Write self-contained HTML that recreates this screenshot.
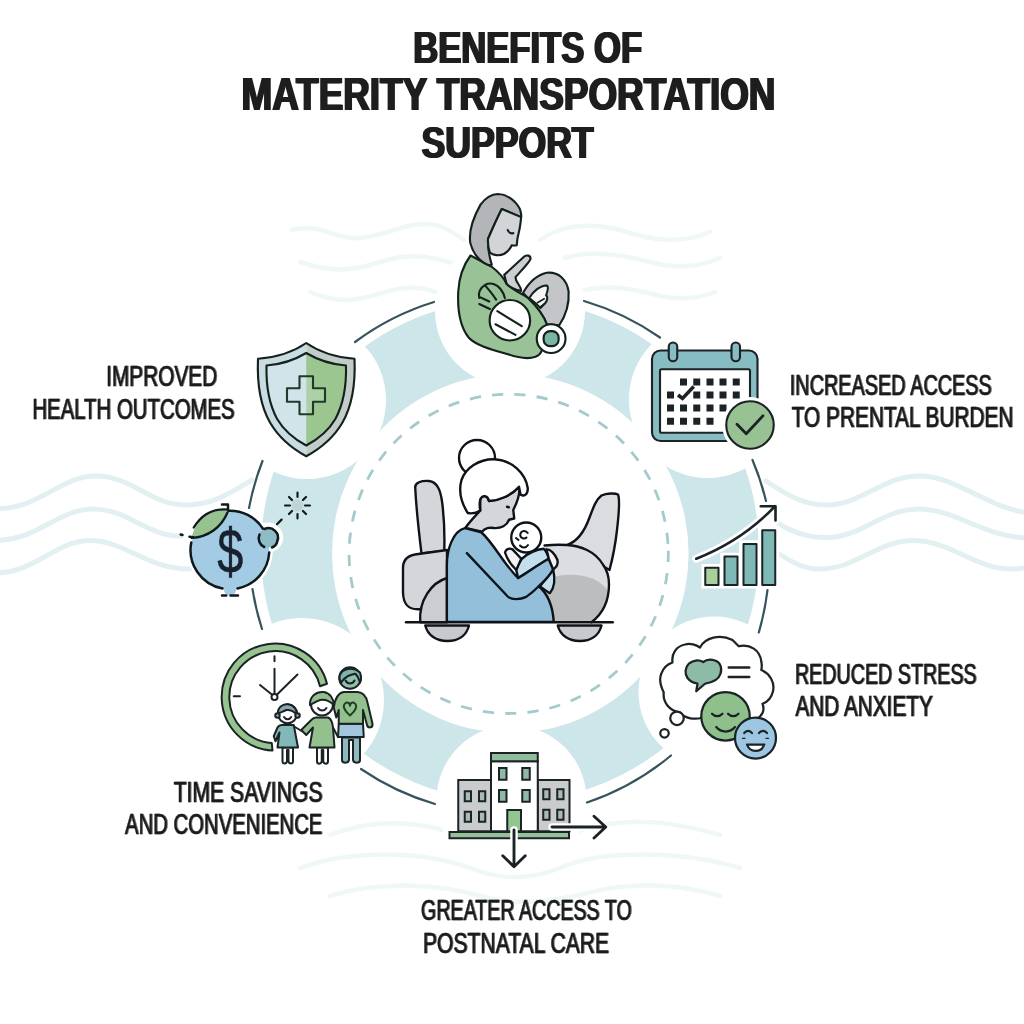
<!DOCTYPE html>
<html lang="en"><head><meta charset="utf-8"><title>Benefits of Materity Transportation Support</title>
<style>
html,body{margin:0;padding:0;background:#fff;}
body{width:1024px;height:1024px;overflow:hidden;font-family:"Liberation Sans",sans-serif;}
svg{display:block;}
text{font-family:"Liberation Sans",sans-serif;fill:#1b1b1b;}
.t{font-weight:bold;fill:#1e1e1e;}
.l{stroke:#1b1b1b;stroke-width:0.5px;stroke-linejoin:round;}
.k{stroke:#1c2326;stroke-width:1.4;stroke-linejoin:round;stroke-linecap:round;}
.n{fill:none;}
</style></head><body>
<svg width="1024" height="1024" viewBox="0 0 1024 1024">
<rect width="1024" height="1024" fill="#ffffff"/>
<defs>
<filter id="bold" x="-5%" y="-10%" width="110%" height="120%" color-interpolation-filters="sRGB">
<feOffset in="SourceGraphic" dx="1" dy="0" result="a"/>
<feOffset in="SourceGraphic" dx="-1" dy="0" result="b"/>
<feMerge><feMergeNode in="a"/><feMergeNode in="b"/><feMergeNode in="SourceGraphic"/></feMerge>
</filter>
<filter id="semi" x="-2%" y="-2%" width="104%" height="104%" color-interpolation-filters="sRGB">
<feOffset in="SourceGraphic" dx="1" dy="0" result="a"/>
<feComponentTransfer in="a" result="b"><feFuncA type="linear" slope="0.65"/></feComponentTransfer>
<feMerge><feMergeNode in="b"/><feMergeNode in="SourceGraphic"/></feMerge>
</filter>
<filter id="gray" x="-2%" y="-2%" width="104%" height="104%" color-interpolation-filters="sRGB"><feMerge><feMergeNode in="SourceGraphic"/></feMerge></filter>
</defs>
<g id="waves" fill="none" stroke-linecap="round">
<g stroke="#e2f0f1" stroke-width="5">
<path d="M-5,509 C40,509 60,476 96,476 C132,476 150,505 186,505 C215,505 235,490 252,480"/>
<path d="M-5,540.5 C38,540.5 58,509 93,509 C128,509 146,536 181,536"/>
<path d="M-5,573 C36,573 55,540.5 90,540.5 C125,540.5 146,569 190,569"/>
<path d="M766,481 C790,497 805,505 826,505 C862,505 882,476 919,476 C958,476 985,508 1030,513"/>
<path d="M779,524 C795,533 808,537.5 826,537.5 C862,537.5 882,509 919,509 C956,509 985,538 1030,538"/>
<path d="M779,554 C795,564 805,569 820,569 C856,569 878,540.5 913,540.5 C950,540.5 975,569 1012,569 C1018,569 1024,568 1030,567"/>
</g>
<g stroke="#f0f7f7" stroke-width="4.5">
<path d="M292,230 C320,222 335,240 360,238 C390,236 410,218 440,226 C450,230 458,236 464,240"/>
<path d="M300,262 C330,272 350,272 380,262 C405,254 425,254 455,264"/>
<path d="M310,292 C340,305 360,300 385,292 C405,286 420,286 435,292"/>
<path d="M540,240 C560,225 590,222 620,230 C650,240 680,245 710,232"/>
<path d="M565,258 C590,250 620,254 650,262 C680,270 700,266 720,258"/>
<path d="M585,290 C610,284 640,290 660,296 C680,300 700,298 715,292"/>
<path d="M330,835 C370,820 410,820 450,832"/>
<path d="M575,832 C620,818 660,818 720,835"/>
<path d="M300,868 C350,850 420,850 470,868 C500,880 530,880 560,868 C600,850 680,850 740,868"/>
<path d="M330,896 C380,880 440,884 480,896 C520,908 560,900 600,890 C640,882 680,884 720,896"/>
</g>
</g>
<g id="ring">
<path fill="#cde6e9" fill-rule="evenodd" d="M261,550.5 a249,251 0 1,0 498,0 a249,251 0 1,0 -498,0 Z M332.0,553.5 a178.3,179.5 0 1,0 356.6,0 a178.3,179.5 0 1,0 -356.6,0 Z"/>
<circle cx="510" cy="311" r="75" fill="#ffffff"/>
<circle cx="707.5" cy="399.3" r="78.6" fill="#ffffff"/>
<circle cx="714" cy="692" r="75.5" fill="#ffffff"/>
<circle cx="511.5" cy="800" r="75" fill="#ffffff"/>
<circle cx="302" cy="700" r="82" fill="#ffffff"/>
<circle cx="307" cy="400" r="79" fill="#ffffff"/>
<circle cx="508.7" cy="553.9" r="159.6" fill="none" stroke="#a5cacd" stroke-width="2.8" stroke-dasharray="11.2 11.168" transform="rotate(-1.1 508.7 553.9)"/>
<path d="M355.0,342.0 A262,262 0 0,1 434.0,302.0" fill="none" stroke="#37545e" stroke-width="2.2" stroke-linecap="round"/>
<path d="M584.0,301.0 A262,262 0 0,1 660.0,337.5" fill="none" stroke="#37545e" stroke-width="2.2" stroke-linecap="round"/>
<path d="M752.5,460.0 A262,262 0 0,1 766.0,501.0" fill="none" stroke="#37545e" stroke-width="2.2" stroke-linecap="round"/>
<path d="M767.5,590.0 A262,262 0 0,1 758.8,632.5" fill="none" stroke="#37545e" stroke-width="2.2" stroke-linecap="round"/>
<path d="M671.0,755.5 A262,262 0 0,1 587.0,802.5" fill="none" stroke="#37545e" stroke-width="2.2" stroke-linecap="round"/>
<path d="M435.0,804.0 A262,262 0 0,1 361.0,769.0" fill="none" stroke="#37545e" stroke-width="2.2" stroke-linecap="round"/>
<path d="M262.0,629.0 A262,262 0 0,1 252.5,589.0" fill="none" stroke="#37545e" stroke-width="2.2" stroke-linecap="round"/>
<path d="M249.0,508.0 A262,262 0 0,1 262.5,461.0" fill="none" stroke="#37545e" stroke-width="2.2" stroke-linecap="round"/>
</g>
<g id="icon-mother" transform="translate(448,184) scale(0.125)" stroke="#13211c" stroke-width="17" stroke-linejoin="round" stroke-linecap="round">
<path d="M600,872 C640,800 700,730 790,710 C880,700 950,760 965,860 C970,940 950,1040 890,1130 L790,1122 C770,1060 720,990 640,912 Z" fill="#c3c5c9"/>
<path d="M650,912 C680,860 740,810 790,812 C805,820 800,850 785,890 C800,900 795,930 780,950 L740,992 C710,960 680,935 650,912 Z" fill="#f4f4f4"/>
<path d="M715,950 L770,918 M735,985 L778,955" fill="none" stroke-width="12"/>
<path d="M450,727 L610,580 C630,565 662,570 660,600 C655,625 560,720 540,745 C540,790 585,810 585,855 C560,850 500,830 470,802 Z" fill="#cdcfd2"/>
<path d="M180,572 C130,640 88,740 82,862 C76,990 95,1140 165,1228 C215,1285 320,1318 480,1362 C560,1390 650,1400 700,1382 C730,1370 745,1350 750,1330 L790,1122 C770,1060 720,990 640,912 C600,880 520,850 470,802 C450,760 400,700 350,662 Z" fill="#99c297"/>
<path d="M250,912 C240,870 260,830 300,805 C340,785 390,800 420,840 C440,865 450,890 455,912 M300,815 C330,850 360,885 385,925 M255,905 L330,940 M250,960 L335,1000" fill="none"/>
<circle cx="495" cy="1090" r="162" fill="#ffffff"/>
<path d="M395,1017 L590,1137 M380,1122 L540,1207" fill="none"/>
<circle cx="825" cy="1237" r="115" fill="#ffffff"/>
<rect x="765" y="1177" width="120" height="120" rx="52" fill="#79b5a5"/>
<path d="M330,650 C260,630 200,560 178,470 C168,400 190,290 260,165 C300,110 350,82 400,80 C470,82 540,130 575,200 C585,230 588,250 585,265 L430,200 C390,280 350,370 320,440 C318,500 330,580 350,645 Z" fill="#b3b5b9"/>
<path d="M430,200 L585,265 C582,300 578,340 568,380 C560,410 552,440 550,490 C535,495 520,492 510,490 C500,515 480,540 450,558 C410,578 360,570 335,548 C322,510 318,470 320,440 C350,370 390,280 430,200 Z" fill="#d2d4d8"/>
<path d="M478,368 C485,390 505,398 522,393" fill="none"/>
</g>
<g id="icon-shield" transform="translate(160,320) scale(0.25)" stroke="#14211d" stroke-width="8.5" stroke-linejoin="round" stroke-linecap="round">
<path d="M585,92 C530,130 460,150 392,155 C388,250 400,340 440,410 C475,470 530,515 585,545 Z" fill="#c8dce1" stroke="none"/>
<path d="M585,92 C640,130 710,150 778,155 C782,250 770,340 730,410 C695,470 640,515 585,545 Z" fill="#c2ccc8" stroke="none"/>
<path d="M585,132 C535,162 480,178 426,182 C424,260 436,335 468,395 C497,445 540,478 585,502 Z" fill="#d0e4ea" stroke="none"/>
<path d="M585,132 C635,162 690,178 744,182 C746,260 734,335 702,395 C673,445 630,478 585,502 Z" fill="#9cc68f" stroke="none"/>
<path d="M585,92 C530,130 460,150 392,155 C388,250 400,340 440,410 C475,470 530,515 585,545 C640,515 695,470 730,410 C770,340 782,250 778,155 C710,150 640,130 585,92 Z" fill="none"/>
<path d="M585,132 C535,162 480,178 426,182 C424,260 436,335 468,395 C497,445 540,478 585,502 C630,478 673,445 702,395 C734,335 746,260 744,182 C690,178 635,162 585,132 Z" fill="none"/>
<path d="M558,225 H612 V273 H660 V327 H612 V377 H558 V327 H508 V273 H558 Z" fill="#d0e4ea" stroke="none"/>
<path d="M585,225 H612 V273 H660 V327 H612 V377 H585 Z" fill="#aed0a6" stroke="none"/>
<path d="M558,225 H612 V273 H660 V327 H612 V377 H558 V327 H508 V273 H558 Z" fill="none" stroke="#1d3b2a"/>
</g>
<g id="icon-calendar" transform="translate(600,300) scale(0.25)" stroke="#1c2326" stroke-width="8.5" stroke-linejoin="round" stroke-linecap="round">
<rect x="208" y="202" width="422" height="362" rx="34" fill="#86bcc2"/>
<rect x="240" y="277" width="360" height="254" rx="6" fill="#ffffff"/>
<rect x="275" y="170" width="34" height="75" rx="17" fill="#86bcc2"/>
<rect x="526" y="170" width="34" height="75" rx="17" fill="#86bcc2"/>
<g fill="#1c2326" stroke="none">
<rect x="320" y="314" width="28" height="28"/><rect x="373" y="314" width="28" height="28"/><rect x="426" y="314" width="28" height="28"/><rect x="478" y="314" width="28" height="28"/><rect x="531" y="314" width="28" height="28"/>
<rect x="268" y="366" width="28" height="28"/><rect x="373" y="366" width="28" height="28"/><rect x="426" y="366" width="28" height="28"/><rect x="478" y="366" width="28" height="28"/><rect x="531" y="366" width="28" height="28"/>
<rect x="268" y="418" width="28" height="28"/><rect x="320" y="418" width="28" height="28"/><rect x="373" y="418" width="28" height="28"/><rect x="426" y="418" width="28" height="28"/><rect x="478" y="418" width="28" height="28"/>
<rect x="268" y="471" width="28" height="28"/><rect x="320" y="471" width="28" height="28"/><rect x="373" y="471" width="28" height="28"/><rect x="426" y="471" width="28" height="28"/>
</g>
<path d="M312,380 L330,394 L375,346" fill="none" stroke-width="14" stroke-linecap="butt" stroke-linejoin="miter"/>
<circle cx="600" cy="500" r="112" fill="#ffffff" stroke="none"/>
<circle cx="600" cy="500" r="95" fill="#98c293"/>
<path d="M548,497 L585,535 L652,463" fill="none" stroke-width="11"/>
</g>
<g id="icon-bars" transform="translate(620,460) scale(0.25)" stroke="#1c2326" stroke-width="8" stroke-linejoin="round" stroke-linecap="round">
<path d="M326,416 H401 V371 H476 V321 H553 V266 H636 V514 H326 Z" fill="#ffffff" stroke="none"/>
<path d="M305,395 C420,350 530,280 620,185 M563,185 H622 V242" fill="none" stroke="#ffffff" stroke-width="32"/>
<rect x="341" y="431" width="53" height="69" fill="#a9d09b"/>
<rect x="418" y="386" width="52" height="114" fill="#7fb9b6"/>
<rect x="494" y="336" width="52" height="164" fill="#7fb9b6"/>
<rect x="569" y="281" width="52" height="219" fill="#7fb9b6"/>
<path d="M305,395 C420,350 530,280 620,185 M563,185 H622 V242" fill="none" stroke-width="10.5"/>
</g>
<g id="icon-smiley" transform="translate(620,600) scale(0.25)" stroke="#1c2326" stroke-width="9" stroke-linejoin="round" stroke-linecap="round">
<path d="M320,190 C340,150 400,135 450,160 C465,175 470,180 475,185 C520,175 560,200 565,245 C568,260 568,270 565,280 C600,295 620,330 612,365 C605,395 585,410 570,415 C580,440 570,465 545,475 L330,470 C300,480 260,475 240,450 C200,445 170,410 175,370 C165,350 155,320 165,295 C175,265 195,255 210,250 C205,215 225,185 260,178 C280,172 305,178 320,190 Z" fill="#ffffff"/>
<path d="M333,248 C315,238 290,240 275,255 C260,270 258,295 270,312 C280,325 295,332 310,334 L305,365 L340,335 C370,330 395,318 402,295 C410,270 400,248 380,242 C360,236 343,240 333,248 Z" fill="#8dbba8"/>
<path d="M435,270 H517 M435,308 H517" fill="none" stroke-width="10"/>
<circle cx="228" cy="473" r="27" fill="#ffffff"/>
<circle cx="178" cy="533" r="17" fill="#ffffff"/>
<circle cx="422" cy="465" r="97" fill="#8fc08b"/>
<path d="M368,455 C380,468 398,468 410,455 M432,455 C444,468 462,468 474,455 M385,508 C405,532 440,532 460,508" fill="none"/>
<circle cx="542" cy="552" r="82" fill="#9cc6e2"/>
<path d="M497,532 C505,520 520,520 528,532 M556,532 C564,520 580,520 588,532" fill="none"/>
<path d="M508,578 C520,612 565,612 577,578 Z" fill="#ffffff"/>
<path d="M490,553 H500 M584,553 H594" fill="none" stroke-width="5"/>
</g>
<g id="icon-hospital" transform="translate(384,680) scale(0.25)" stroke="#1c2326" stroke-width="8" stroke-linejoin="miter" stroke-linecap="round">
<rect x="297" y="400" width="131" height="205" fill="#c9cbcd"/>
<rect x="615" y="400" width="127" height="205" fill="#c9cbcd"/>
<rect x="428" y="325" width="187" height="280" fill="#ffffff"/>
<rect x="428" y="292" width="187" height="33" fill="#8fbf9a"/>
<rect x="262" y="608" width="478" height="25" fill="#93c098"/>
<rect x="493" y="520" width="55" height="85" fill="#93c58f"/>
<g fill="#8fb9a6" stroke-width="8">
<rect x="460" y="352" width="30" height="47"/><rect x="553" y="352" width="30" height="47"/>
<rect x="460" y="440" width="30" height="47"/><rect x="553" y="440" width="30" height="47"/>
</g>
<g fill="#a9bbb4" stroke-width="8">
<rect x="323" y="445" width="25" height="40"/><rect x="380" y="445" width="25" height="40"/>
<rect x="323" y="527" width="25" height="40"/><rect x="380" y="527" width="25" height="40"/>
<rect x="637" y="437" width="25" height="40"/><rect x="693" y="437" width="25" height="40"/>
<rect x="637" y="519" width="25" height="40"/><rect x="693" y="519" width="25" height="40"/>
</g>
<path d="M672,588 H880 M520,600 V740" fill="none" stroke="#ffffff" stroke-width="30"/>
<path d="M672,588 H885 M840,545 L887,588 L840,632 M520,600 V745 M475,703 L520,747 L565,703" fill="none" stroke-width="11.5" stroke-linejoin="round"/>
</g>
<g id="icon-family" transform="translate(160,600) scale(0.25)" stroke="#1c2326" stroke-width="8" stroke-linejoin="round" stroke-linecap="round">
<path d="M668,335 A214,214 0 1 0 450,602 L447,572 A184,184 0 1 1 640,345 Z" fill="#97c391"/>
<path d="M458,225 V245 M295,385 H320 M458,275 V375 M400,340 L450,380 M550,298 L466,380" fill="none"/>
<circle cx="458" cy="388" r="12" fill="#ffffff"/>
<!-- adult -->
<path d="M728,550 H800 V640 C800,655 775,655 772,640 V560 H756 V640 C753,655 728,655 728,640 Z" fill="#8cbabf"/>
<path d="M715,495 H812 L815,548 H712 Z" fill="#a3c6df"/>
<path d="M735,368 H790 C815,370 825,385 830,410 L850,495 C852,512 832,515 828,500 L812,440 V495 H715 V440 L705,470 L695,430 C700,395 710,372 735,368 Z" fill="#93c08d"/>
<path d="M760,462 C735,442 728,420 744,411 C753,407 760,415 760,423 C760,415 767,407 776,411 C792,420 785,442 760,462 Z" fill="#93c08d" stroke="#1c4128" stroke-width="8"/>
<circle cx="760" cy="312" r="43" fill="#8fc0a8"/>
<path d="M720,300 C730,275 770,265 800,290 C805,305 805,320 800,330 C795,315 790,300 780,295 C760,300 740,305 725,330 C718,320 716,310 720,300 Z" fill="#7fb3b0"/>
<path d="M742,322 C750,338 770,338 778,322" fill="none"/>
<!-- middle child -->
<path d="M628,590 H672 V645 C672,658 655,658 653,645 V600 H647 V645 C645,658 628,658 628,645 Z" fill="#ffffff"/>
<path d="M625,470 H672 C685,475 690,490 692,510 L698,590 H598 L612,510 L585,540 L565,520 L605,480 C612,472 618,470 625,470 Z" fill="#93c08d"/>
<path d="M692,510 L712,548" fill="none"/>
<circle cx="648" cy="418" r="44" fill="#ffffff"/>
<path d="M600,420 C598,385 625,365 655,368 C680,372 695,395 695,420 C680,405 660,395 640,400 C625,405 612,415 600,420 Z" fill="#93c08d"/>
<path d="M632,432 C640,445 658,445 666,432" fill="none"/>
<!-- small child -->
<path d="M490,590 H532 V645 C532,657 516,657 514,645 V600 H508 V645 C506,657 490,657 490,645 Z" fill="#ffffff"/>
<path d="M488,500 H535 L552,590 H470 L478,530 L462,565 L455,545 L470,510 C475,502 480,500 488,500 Z" fill="#80b9b8"/>
<path d="M535,505 L568,525" fill="none"/>
<circle cx="510" cy="455" r="38" fill="#ffffff"/>
<path d="M472,455 C470,430 490,415 512,417 C535,420 548,438 548,458 C535,445 520,438 505,440 C495,445 482,450 472,455 Z" fill="#8aa9ad"/>
<circle cx="470" cy="462" r="9" fill="#8aa9ad"/><circle cx="550" cy="462" r="9" fill="#8aa9ad"/>
<path d="M496,468 C503,480 518,480 525,468" fill="none"/>
</g>
<g id="icon-dollar" transform="translate(140,440) scale(0.25)" stroke="#10181d" stroke-width="10" stroke-linejoin="round" stroke-linecap="round">
<circle cx="360" cy="440" r="172" fill="#ffffff" stroke="none"/>
<circle cx="513" cy="390" r="60" fill="#ffffff" stroke="none"/>
<path d="M325,590 V625 H395 V590 Z" fill="#ffffff" stroke="#ffffff" stroke-width="20"/>
<circle cx="360" cy="440" r="157" fill="#a3cbe3" stroke="none"/>
<path d="M335,585 C335,610 340,620 360,620 C380,620 385,610 385,585 Z" fill="#a3cbe3" stroke="none"/>
<path d="M350,283 A157,157 0 0 1 492,355 M517,450 A157,157 0 0 1 390,594 M330,594 A157,157 0 0 1 205,410" fill="none"/>
<path d="M207,392 C215,330 275,272 352,278 C350,335 292,392 207,392 Z" fill="#96c290" stroke="none"/>
<path d="M215,350 C245,300 292,272 352,278 M207,392 C272,388 325,350 350,290" fill="none" stroke-width="9"/>
<path d="M328,258 H352 V280 M163,378 L170,380 M198,387 L214,389 M328,622 H345 M362,622 H392" fill="none" stroke-width="10"/>
<circle cx="513" cy="392" r="38" fill="#8dbcc6" stroke="none"/>
<path d="M497,428 A38,38 0 0 1 478,378 M498,356 A38,38 0 0 1 549,405 C547,418 538,426 528,430" fill="none" stroke-width="10"/>
<path d="M548,337 L578,307" fill="none" stroke-width="9" stroke-dasharray="26 40"/>
<circle cx="630" cy="262" r="24" fill="#bdd5d6" stroke="none"/>
<path d="M630,210 V228 M630,296 V314 M580,262 H600 M660,262 H680 M596,228 L608,240 M652,284 L664,296 M664,228 L652,240 M608,284 L596,296" fill="none" stroke-width="8.5"/>
</g>
<text x="230.3" y="573" font-size="63" text-anchor="middle" style="fill:#17222e;stroke:#17222e;stroke-width:0.5px" textLength="26" lengthAdjust="spacingAndGlyphs">$</text>
<g id="center-art" transform="translate(384,428) scale(0.25)" stroke="#0e1319" stroke-width="9.5" stroke-linejoin="round" stroke-linecap="round">
<defs>
<linearGradient id="gcush" x1="0" y1="0" x2="0.3" y2="1"><stop offset="0" stop-color="#dcdde0"/><stop offset="0.45" stop-color="#d2d3d6"/><stop offset="0.5" stop-color="#bfc0c2"/><stop offset="1" stop-color="#c9cacc"/></linearGradient>
</defs>
<path d="M125,240 C122,218 150,210 180,212 C212,216 226,245 233,300 C241,365 243,430 241,492 L150,502 C140,420 128,305 125,240 Z" fill="#d4d6da"/>
<path d="M76,565 C74,528 92,510 130,505 L252,488 V725 H135 C92,725 78,700 76,660 Z" fill="#d4d6da"/>
<path d="M145,777 C138,690 190,618 252,600 V777 Z" fill="#cccdd0"/>
<path d="M165,790 C175,830 210,852 253,852 C298,852 330,830 340,790 Z" fill="#c8c9cc"/>
<path d="M695,790 C705,830 740,852 783,852 C828,852 860,830 870,790 Z" fill="#c8c9cc"/>
<path d="M732,468 C770,455 800,420 822,358 C840,310 850,285 870,270 C890,260 925,260 936,266 C944,285 940,340 932,408 C925,470 915,520 902,568 Z" fill="#dbdcdf"/>
<path d="M642,470 C680,466 705,466 732,468 C765,470 790,478 812,488 C840,502 860,520 875,545 C890,565 900,590 900,625 C900,680 885,735 830,777 H640 L640,600 Z" fill="#dcdde0" stroke="none"/>
<path d="M692,593 C725,586 760,586 787,590 C820,595 845,605 862,618 C875,628 885,636 893,648 C895,700 875,745 830,775 H645 L645,610 C660,602 680,596 692,593 Z" fill="#bcbdbf" stroke="none"/>
<path d="M642,470 C680,466 705,466 732,468 C765,470 790,478 812,488 C840,502 860,520 875,545 C890,565 900,590 900,625 C900,680 885,735 830,777" fill="none"/>
<path d="M88,777 H915" fill="none"/>
<circle cx="372" cy="120" r="72" fill="#ffffff"/>
<path d="M385,285 C395,265 415,270 420,292 C460,290 510,270 540,235 C546,262 534,295 517,328 L521,362 L500,367 C492,390 468,402 440,400 C420,398 405,398 392,415 L325,400 C345,372 372,345 385,330 Z" fill="#d5d6d9"/>
<path d="M335,340 C310,300 298,250 310,208 C326,160 380,124 440,125 C512,128 566,180 575,240 C576,266 560,276 546,266 L540,235 C510,270 460,290 420,292 C415,270 395,265 385,285 C380,308 384,324 385,330 C370,340 350,343 335,340 Z" fill="#ffffff"/>
<ellipse cx="496" cy="316" rx="9" ry="5.5" transform="rotate(20 496 316)" fill="#0e1319" stroke="none"/>
<path d="M529,568 C534,548 544,533 551.5,523 C574,503 609,485.5 639,483 C649,493 656.5,513 659,523 L536.5,600.5 Z" fill="#c3dfee"/>
<path d="M624,633 C644,648 656.5,658 664,660.5 C681.5,638 686.5,608 676.5,565.5 Z" fill="#c3dfee"/>
<path d="M251.5,775.5 L251.5,548 C251.5,488 274,413 324,400.5 L389,417 C424,448 454,498 484,538 C499,558 514,578 536.5,600.5 C574,578 614,548 659,523 L676.5,565.5 C659,598 624,628 619,633 C649,658 674,698 679,775.5 Z" fill="#93bfda"/>
<path d="M331.5,500.5 L494,673 C509,688 544,688 569,675.5 C594,658 609,643 619,633" fill="none"/>
<path d="M484,498 C486.5,485.5 499,478 514,485.5 L549,523 L529,568 C509,548 491.5,523 484,498 Z" fill="#f3f3f5"/>
<path d="M649,485.5 C664,483 684,503 694,528 C696.5,543 689,558 676.5,565.5 L659,523 C656.5,508 653,495.5 649,485.5 Z" fill="#f3f3f5"/>
<circle cx="569" cy="438" r="60" fill="#ffffff"/>
<path d="M575,420 C565,405 545,412 545,428 C546,442 562,446 570,438 M528,440 L538,448 M544,470 C554,482 568,480 576,468" fill="none" stroke-width="8"/>
</g>
<g id="labels">
<text class="t" filter="url(#bold)" x="413.14" y="63.3" font-size="44.3" textLength="228.92" lengthAdjust="spacingAndGlyphs">BENEFITS OF</text>
<text class="t" filter="url(#bold)" x="241.52" y="110.2" font-size="45.3" textLength="533.96" lengthAdjust="spacingAndGlyphs">MATERITY TRANSPORTATION</text>
<text class="t" filter="url(#bold)" x="421.42" y="157.8" font-size="45" textLength="172.22" lengthAdjust="spacingAndGlyphs">SUPPORT</text>
<text class="l" filter="url(#semi)" x="105.91" y="386.4" font-size="29" textLength="111.04" lengthAdjust="spacingAndGlyphs">IMPROVED</text>
<text class="l" filter="url(#semi)" x="32.16" y="418.5" font-size="29" textLength="202.22" lengthAdjust="spacingAndGlyphs">HEALTH OUTCOMES</text>
<text class="l" filter="url(#semi)" x="789.51" y="395.2" font-size="29" textLength="202.13" lengthAdjust="spacingAndGlyphs">INCREASED ACCESS</text>
<text class="l" filter="url(#semi)" x="791.50" y="426.8" font-size="29" textLength="221.80" lengthAdjust="spacingAndGlyphs">TO PRENTAL BURDEN</text>
<text class="l" filter="url(#semi)" x="794.63" y="683.5" font-size="29" textLength="181.83" lengthAdjust="spacingAndGlyphs">REDUCED STRESS</text>
<text class="l" filter="url(#semi)" x="795.18" y="716.2" font-size="29" textLength="137.38" lengthAdjust="spacingAndGlyphs">AND ANXIETY</text>
<text class="l" filter="url(#semi)" x="420.87" y="920" font-size="29" textLength="210.61" lengthAdjust="spacingAndGlyphs">GREATER ACCESS TO</text>
<text class="l" filter="url(#semi)" x="422.73" y="952.5" font-size="29" textLength="186.19" lengthAdjust="spacingAndGlyphs">POSTNATAL CARE</text>
<text class="l" filter="url(#semi)" x="173.42" y="801.7" font-size="29" textLength="148.94" lengthAdjust="spacingAndGlyphs">TIME SAVINGS</text>
<text class="l" filter="url(#semi)" x="124.85" y="834.2" font-size="29" textLength="197.31" lengthAdjust="spacingAndGlyphs">AND CONVENIENCE</text>
</g>

</svg>
</body></html>
